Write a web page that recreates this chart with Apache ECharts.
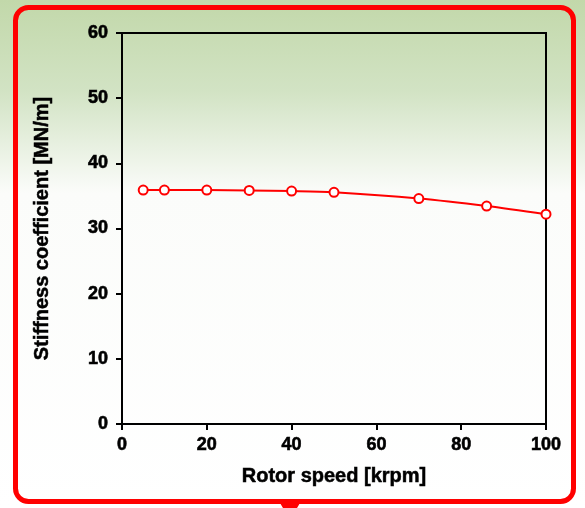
<!DOCTYPE html>
<html>
<head>
<meta charset="utf-8">
<script src="https://cdn.jsdelivr.net/npm/echarts@6/dist/echarts.min.js"></script>
<style>
  html, body { margin: 0; padding: 0; background: #ffffff; }
  #chart { width: 585px; height: 508px; }
</style>
</head>
<body>
<div id="chart"></div>
<script>
// Rotor speed [krpm] at each measured point
const rotorSpeed = [5, 10, 20, 30, 40, 50, 70, 86, 100];
// Stiffness coefficient [MN/m]
const stiffness = [35.9, 35.9, 35.9, 35.85, 35.75, 35.55, 34.6, 33.45, 32.2];
// Axis tick settings
const xTicks = { min: 0, max: 100, interval: 20 };
const yTicks = { min: 0, max: 60, interval: 10 };

const FONT = '"Liberation Sans", Arial, sans-serif';
const chart = echarts.init(document.getElementById('chart'), null, { renderer: 'canvas' });

// Heavy bold lettering for ticks and axis titles
const tickText = {
  color: '#000', fontFamily: FONT, fontWeight: 'bold', fontSize: 18,
  textBorderColor: '#000', textBorderWidth: 0.6
};
const nameText = {
  color: '#000', fontFamily: FONT, fontWeight: 'bold', fontSize: 20,
  textBorderColor: '#000', textBorderWidth: 0.5
};

chart.setOption({
  animation: false,
  graphic: [
    {
      type: 'rect', z: -10, silent: true,
      shape: { x: 0, y: 0, width: 585, height: 508 },
      style: {
        fill: new echarts.graphic.LinearGradient(0, 0, 0, 1, [
          { offset: 0, color: '#c2d8aa' },
          { offset: 0.18, color: '#d2e3c4' },
          { offset: 0.38, color: '#fbfcfa' },
          { offset: 1, color: '#ffffff' }
        ])
      }
    },
    {
      type: 'rect', z: 100, silent: true,
      shape: { x: 15.5, y: 7.5, width: 558, height: 494, r: 13 },
      style: { fill: null, stroke: '#ff0000', lineWidth: 5 }
    },
    {
      type: 'polygon', z: 100, silent: true,
      shape: { points: [[280, 503], [300, 503], [297, 508], [283, 508]] },
      style: { fill: '#ff0000' }
    }
  ],
  grid: {
    left: 122, right: 39, top: 33, bottom: 84,
    show: true, borderColor: '#000', borderWidth: 2, backgroundColor: 'transparent'
  },
  xAxis: {
    type: 'value',
    min: xTicks.min, max: xTicks.max, interval: xTicks.interval,
    name: 'Rotor speed [krpm]',
    nameLocation: 'middle', nameGap: 42,
    nameTextStyle: nameText,
    axisLine: { show: true, lineStyle: { color: '#000', width: 2 } },
    axisTick: { show: true, inside: false, length: 6, lineStyle: { color: '#000', width: 2 } },
    axisLabel: Object.assign({ margin: 12 }, tickText),
    splitLine: { show: false }
  },
  yAxis: {
    type: 'value',
    min: yTicks.min, max: yTicks.max, interval: yTicks.interval,
    name: 'Stiffness coefficient [MN/m]',
    nameLocation: 'middle', nameGap: 70, nameRotate: 90,
    nameTextStyle: nameText,
    axisLine: { show: true, lineStyle: { color: '#000', width: 2 } },
    axisTick: { show: true, inside: false, length: 6, lineStyle: { color: '#000', width: 2 } },
    axisLabel: Object.assign({ margin: 14 }, tickText),
    splitLine: { show: false }
  },
  series: [{
    type: 'line',
    data: rotorSpeed.map((x, i) => [x, stiffness[i]]),
    smooth: 0.3,
    symbol: 'emptyCircle',
    symbolSize: 9,
    lineStyle: { color: '#ff0000', width: 2 },
    itemStyle: { color: '#ff0000', borderColor: '#ff0000', borderWidth: 2 }
  }]
});
</script>
</body>
</html>
